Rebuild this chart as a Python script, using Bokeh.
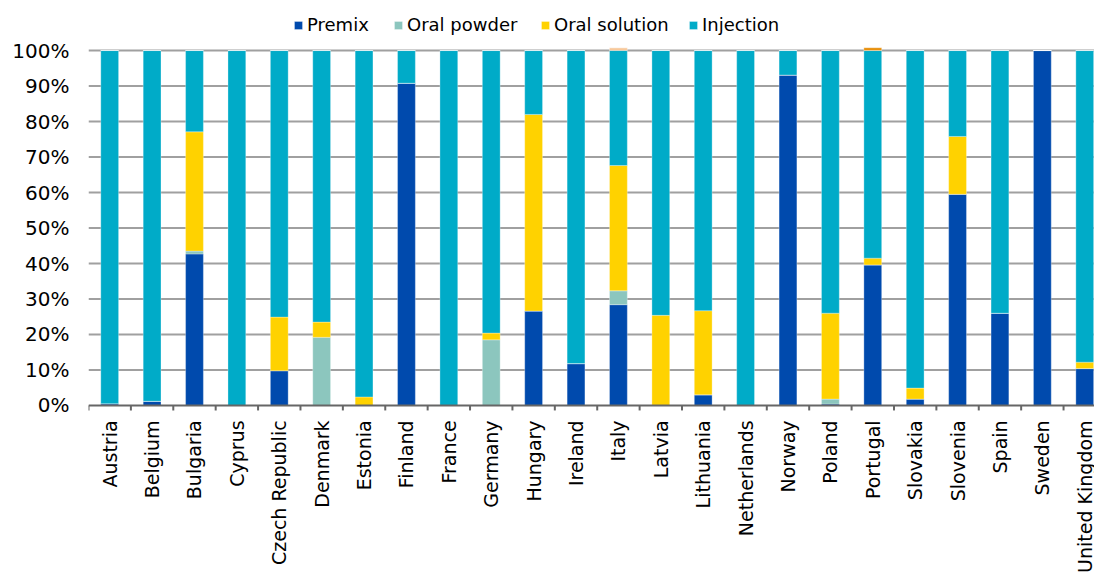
from math import pi

from bokeh.embed import file_html
from bokeh.models import (ColumnDataSource, FixedTicker, Legend, LegendItem,
                          Range1d, Span)
from bokeh.plotting import figure
from bokeh.resources import INLINE

# Share of each formulation per country (%)
countries = ["Austria", "Belgium", "Bulgaria", "Cyprus", "Czech Republic",
             "Denmark", "Estonia", "Finland", "France", "Germany", "Hungary",
             "Ireland", "Italy", "Latvia", "Lithuania", "Netherlands", "Norway",
             "Poland", "Portugal", "Slovakia", "Slovenia", "Spain", "Sweden",
             "United Kingdom"]
premix = [0.5, 1.2, 42.7, 0, 9.8, 0, 0, 90.8, 0, 0, 26.6, 11.8, 28.4, 0,
          3.0, 0, 93.1, 0.4, 39.6, 1.8, 59.5, 26.0, 100, 10.4]
oral_powder = [0, 0, 0.8, 0, 0, 19.2, 0, 0, 0, 18.5, 0, 0, 3.9, 0,
               0, 0, 0, 1.4, 0, 0, 0, 0, 0, 0]
oral_solution = [0, 0, 33.6, 0, 15.1, 4.3, 2.4, 0, 0, 1.9, 55.4, 0, 35.3, 25.4,
                 23.7, 0, 0, 24.2, 1.9, 3.1, 16.3, 0, 0, 1.8]
injection = [99.5, 98.8, 22.9, 100, 75.1, 76.5, 97.6, 9.2, 100, 79.6, 18.0,
             88.2, 32.4, 74.6, 73.3, 100, 6.9, 74.0, 58.5, 95.1, 24.2, 74.0,
             0, 87.8]
# small unlabelled remainders shown on top of two bars
other_a = [0, 0, 0, 0, 0, 0, 0, 0, 0, 0, 0, 0, 0.8, 0,
           0, 0, 0, 0, 0, 0, 0, 0, 0, 0]
other_b = [0, 0, 0, 0, 0, 0, 0, 0, 0, 0, 0, 0, 0, 0,
           0, 0, 0, 0, 0.8, 0, 0, 0, 0, 0]

series = ["Premix", "Oral powder", "Oral solution", "Injection"]
y_ticks = list(range(0, 101, 10))

colors = ["#004AAD", "#8CC6BE", "#FFD200", "#00ABC8", "#F8C89A", "#E8900C"]
FONT = "DejaVu Sans"
AXIS_GREY = "#666666"
GRID_GREY = "#a0a0a0"

n = len(countries)
xs = list(range(n))
source = ColumnDataSource(dict(
    x=xs, premix=premix, oral_powder=oral_powder, oral_solution=oral_solution,
    injection=injection, other_a=other_a, other_b=other_b,
))

X_START, X_END = -0.5, 23.23
GRID_HALF = 0.28  # half thickness of a gridline, in % units (about 1 px)

# The frame covers the whole height: the legend sits above 100 %,
# the country names below 0 %.
p = figure(width=1094, height=575, output_backend="svg", toolbar_location=None,
           x_range=Range1d(X_START, X_END), y_range=Range1d(-47.9, 114.1),
           min_border_left=88, min_border_right=0, min_border_top=0,
           min_border_bottom=0)
p.outline_line_color = None
p.xaxis.visible = False
p.xgrid.grid_line_color = None
p.ygrid.grid_line_color = None

# y axis: percentages
p.yaxis.ticker = FixedTicker(ticks=y_ticks)
p.yaxis.major_label_overrides = {t: f"{t}%" for t in y_ticks}
p.yaxis.axis_line_color = None
p.yaxis.major_tick_line_color = None
p.yaxis.minor_tick_line_color = None
p.yaxis.major_tick_out = 0
p.yaxis.major_label_standoff = 19
p.yaxis.major_label_text_font = FONT
p.yaxis.major_label_text_font_size = "20px"
p.yaxis.major_label_text_color = "black"

# horizontal gridlines behind the bars, drawn as thin filled bands
grid_y = y_ticks[1:]
p.quad(left=[X_START] * len(grid_y), right=[X_END] * len(grid_y),
       bottom=[y - GRID_HALF for y in grid_y], top=[y + GRID_HALF for y in grid_y],
       fill_color=GRID_GREY, line_color=None)

renderers = p.vbar_stack(
    ["premix", "oral_powder", "oral_solution", "injection", "other_a", "other_b"],
    x="x", width=0.42, color=colors, source=source,
    line_color="white", line_width=0.5, line_alpha=0.6)

# category axis: baseline, tick marks between categories, rotated names
p.add_layout(Span(location=0, dimension="width", line_color=AXIS_GREY,
                  line_width=2))
bounds = [i - 0.5 for i in range(n + 1)]
p.segment(x0=bounds, y0=[0] * len(bounds), x1=bounds, y1=[-1.4] * len(bounds),
          line_color=AXIS_GREY, line_width=2)
p.text(x=xs, y=[-4.2] * n, text=countries, angle=pi / 2,
       text_align="right", text_baseline="middle",
       text_font={"value": FONT}, text_font_size="19px", text_color="black")

# one legend entry per series, laid out in a row above the bars
legend_x = [205, 305, 452, 600]
for label, r, lx in zip(series, renderers[:4], legend_x):
    p.add_layout(Legend(items=[LegendItem(label=label, renderers=[r])],
                        location=(lx, 540), glyph_width=10, glyph_height=10,
                        label_standoff=4, label_text_font=FONT,
                        label_text_font_size="18px", label_text_color="black",
                        padding=0, margin=0, border_line_color=None,
                        background_fill_alpha=0))

open("out.html", "w").write(file_html(p, INLINE))
